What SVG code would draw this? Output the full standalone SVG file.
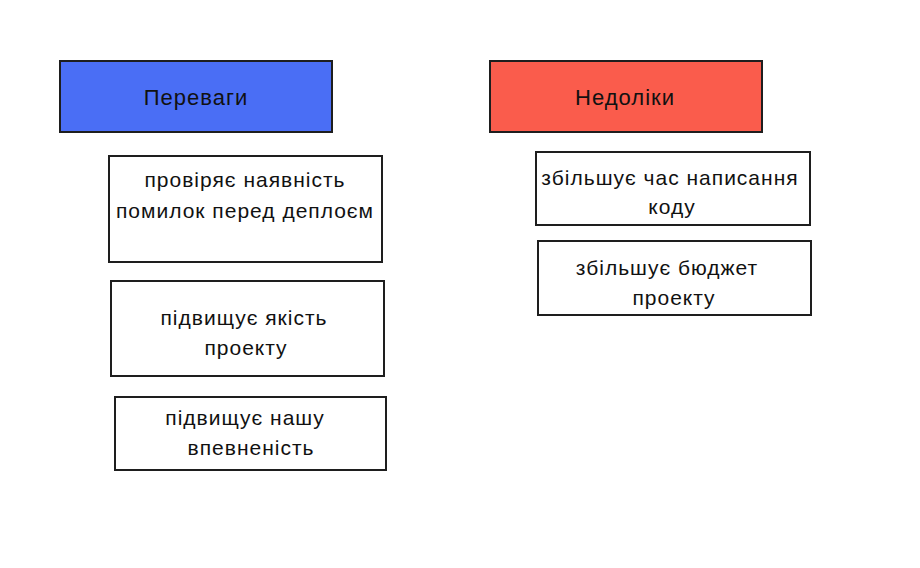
<svg xmlns="http://www.w3.org/2000/svg" width="920" height="568" viewBox="0 0 920 568">
<style>
.box{fill:#ffffff;stroke:#1e1e1e;stroke-width:2}
.blue{fill:#4a6ef5;stroke:#1e1e1e;stroke-width:2}
.red{fill:#fa5c4c;stroke:#1e1e1e;stroke-width:2}
text{font-family:"Liberation Sans","DejaVu Sans",sans-serif;font-size:21px;letter-spacing:1px;fill:#111111;text-anchor:middle}
.h{font-size:22px}
</style>
<rect width="920" height="568" fill="#ffffff"/>
<g id="pereva">
<rect class="blue" x="60" y="61" width="272" height="71"/>
<text class="h" x="196" y="105">Переваги</text>
</g>
<g id="nedoliky">
<rect class="red" x="490" y="61" width="272" height="71"/>
<text class="h" x="625" y="105">Недоліки</text>
</g>
<g id="p1">
<rect class="box" x="109" y="156" width="273" height="106"/>
<text x="245" y="187">провіряє наявність</text>
<text x="245" y="218">помилок перед деплоєм</text>
</g>
<g id="p2">
<rect class="box" x="111" y="281" width="273" height="95"/>
<text x="244" y="325">підвищує якість</text>
<text x="246" y="355">проекту</text>
</g>
<g id="p3">
<rect class="box" x="115" y="397" width="271" height="73"/>
<text x="245" y="425">підвищує нашу</text>
<text x="251" y="455">впевненість</text>
</g>
<g id="n1">
<rect class="box" x="536" y="152" width="274" height="73"/>
<text x="670" y="185">збільшує час написання</text>
<text x="672" y="214">коду</text>
</g>
<g id="n2">
<rect class="box" x="538" y="241" width="273" height="74"/>
<text x="667" y="275">збільшує бюджет</text>
<text x="674" y="305">проекту</text>
</g>
<g id="connectors"></g>
</svg>
